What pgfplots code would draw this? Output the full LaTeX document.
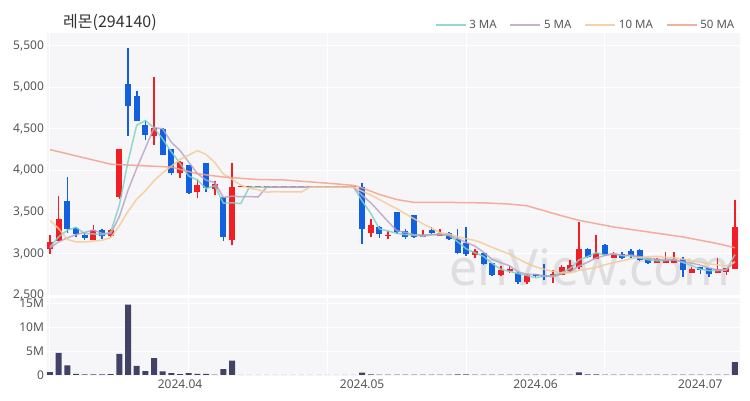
\documentclass[border=0pt]{standalone}
\usepackage{fontspec}
\setmainfont{Noto Sans}
\newfontfamily\kr{Noto Sans CJK KR}
\usepackage{pgfplots}
\usepackage{pgfplotstable}
\pgfplotsset{compat=1.18}

\definecolor{upred}{RGB}{242,30,38}
\definecolor{dnblue}{RGB}{18,96,224}
\definecolor{volbar}{RGB}{66,66,102}
\definecolor{panel}{RGB}{246,246,248}
\definecolor{ma3}{RGB}{128,210,198}
\definecolor{ma5}{RGB}{184,164,200}
\definecolor{ma10}{RGB}{244,202,150}
\definecolor{ma50}{RGB}{245,160,142}
\definecolor{lbl}{RGB}{85,85,85}
\definecolor{ttl}{RGB}{51,51,51}
\definecolor{wmark}{RGB}{222,222,224}

% rising candles (red), including the halt days
\pgfplotstableread{
x o h l c
0 3060 3220 3000 3140
1 3152 3692 3150 3412
5 3168 3348 3160 3280
7 3208 3300 3200 3280
8 3680 4260 3660 4260
12 4408 5120 4300 4512
15 3968 4110 3912 4100
17 3740 3892 3672 3828
19 3780 3868 3708 3832
21 3168 4092 3100 3800
22 3800 3800 3800 3800
23 3800 3800 3800 3800
24 3800 3800 3800 3800
25 3800 3800 3800 3800
26 3800 3800 3800 3800
27 3800 3800 3800 3800
28 3800 3800 3800 3800
29 3800 3800 3800 3800
30 3800 3800 3800 3800
31 3800 3800 3800 3800
32 3800 3800 3800 3800
33 3800 3800 3800 3800
34 3800 3800 3800 3800
35 3800 3800 3800 3800
37 3248 3420 3200 3348
39 3212 3268 3172 3228
43 3200 3280 3200 3228
45 3208 3300 3208 3248
49 2980 3052 2950 3030
52 2740 2852 2735 2808
53 2792 2852 2772 2812
55 2660 2750 2640 2740
58 2728 2800 2648 2752
59 2740 2860 2740 2840
60 2792 2920 2780 2868
61 2840 3380 2820 3060
63 2940 3220 2930 3012
65 2952 3020 2950 2992
70 2888 2950 2888 2932
71 2888 3020 2888 2928
72 2888 3020 2888 2940
74 2768 2840 2768 2820
77 2768 2952 2768 2820
78 2780 2828 2740 2828
79 2820 3640 2820 3320
}\upc

% falling candles (blue)
\pgfplotstableread{
x o h l c
2 3628 3920 3248 3292
3 3312 3320 3200 3240
4 3220 3260 3160 3192
6 3288 3300 3180 3208
9 5040 5472 4408 4780
10 4892 4960 4590 4592
11 4540 4600 4360 4428
13 4500 4510 4180 4188
14 4252 4260 3940 3968
16 4068 4070 3720 3728
18 4088 4090 3740 3788
20 3680 3680 3152 3200
36 3800 3848 3112 3300
38 3320 3330 3192 3240
40 3500 3500 3240 3260
41 3268 3290 3180 3200
42 3460 3460 3190 3200
44 3288 3320 3232 3248
46 3248 3260 3160 3172
47 3180 3300 2992 3008
48 3128 3320 2972 2992
50 3008 3020 2860 2880
51 2888 2890 2730 2740
54 2768 2780 2640 2660
56 2752 2760 2720 2728
57 2740 2872 2680 2720
62 3060 3070 2950 2960
64 3108 3110 2970 2980
66 3000 3020 2940 2952
67 3032 3050 2950 2968
68 3048 3050 2915 2920
69 2940 2940 2870 2888
73 2932 2960 2720 2808
75 2840 2840 2752 2808
76 2828 2828 2720 2760
}\dnc

% volume (millions) and short moving averages
\pgfplotstableread{
x v m3 m5 m10
0 0.6 3080 3068 3400
1 4.6 3201 3140 3300
2 2.0 3281 3189 3170
3 0.25 3315 3227 3140
4 0.15 3241 3255 3140
5 0.15 3237 3283 3150
6 0.15 3227 3242 3160
7 0.2 3256 3240 3190
8 4.4 3583 3444 3335
9 14.7 4107 3762 3508
10 1.9 4544 4024 3654
11 0.8 4600 4268 3755
12 3.5 4511 4514 3877
13 0.75 4376 4500 3972
14 0.4 4223 4338 4050
15 0.2 4085 4239 4132
16 0.4 3932 4099 4184
17 0.25 3885 3962 4238
18 0.25 3781 3882 4191
19 0.1 3816 3855 4096
20 1.2 3607 3675 3957
21 3.0 3611 3690 3894
22 0 3600 3684 3823
23 0 3800 3686 3784
24 0 3800 3680 3768
25 0 3800 3800 3738
26 0 3800 3800 3745
27 0 3800 3800 3742
28 0 3800 3800 3743
29 0 3800 3800 3740
30 0 3800 3800 3800
31 0 3800 3800 3800
32 0 3800 3800 3800
33 0 3800 3800 3800
34 0 3800 3800 3800
35 0 3800 3800 3800
36 0.5 3633 3700 3750
37 0.12 3483 3610 3705
38 0.1 3296 3498 3649
39 0.08 3272 3383 3592
40 0.1 3243 3275 3538
41 0.08 3229 3255 3478
42 0.1 3220 3226 3418
43 0.06 3209 3223 3360
44 0.06 3225 3227 3305
45 0.06 3241 3225 3250
46 0.08 3223 3219 3237
47 0.15 3143 3181 3203
48 0.15 3057 3134 3178
49 0.08 3010 3090 3159
50 0.1 2967 3016 3121
51 0.1 2883 2930 3075
52 0.06 2809 2890 3035
53 0.06 2787 2854 2994
54 0.1 2760 2780 2935
55 0.06 2737 2752 2884
56 0.05 2709 2750 2840
57 0.06 2729 2732 2811
58 0.05 2733 2720 2787
59 0.06 2771 2756 2768
60 0.08 2820 2782 2767
61 0.55 2923 2848 2799
62 0.12 2963 2896 2814
63 0.15 3011 2948 2834
64 0.08 2984 2976 2866
65 0.05 2995 3001 2891
66 0.05 2975 2979 2914
67 0.05 2971 2981 2938
68 0.06 2947 2962 2955
69 0.05 2925 2944 2960
70 0.05 2913 2932 2966
71 0.05 2916 2927 2953
72 0.05 2933 2922 2951
73 0.08 2892 2899 2931
74 0.05 2856 2886 2915
75 0.05 2812 2861 2896
76 0.06 2796 2827 2877
77 0.06 2796 2803 2862
78 0.05 2803 2807 2853
79 2.7 2989 2907 2896
}\ind

\pgfplotstableread{
x v
0 4250
2 4200
4 4150
7 4075
10 4060
14 4040
17 3960
20 3920
24 3890
27 3885
30 3862
33 3838
35 3820
36 3790
38 3710
40 3650
42 3615
46 3615
50 3610
53 3595
55 3575
57 3515
59 3455
61 3400
63 3360
65 3320
67 3290
69 3260
71 3230
73 3200
75 3160
77 3120
79 3070
}\mafifty

\pgfplotsset{
  panelax/.style={
    scale only axis, width=693.3pt, xmin=-0.38, xmax=79.58,
    axis line style={draw=none}, major tick length=0pt,
    axis background/.style={fill=panel},
    grid style={draw=white, line width=1pt},
    ymajorgrids,
    ticklabel style={font=\fontsize{12}{14}\selectfont, text=lbl},
    yticklabel style={inner sep=0pt, xshift=-2.6pt},
    /pgf/number format/assume math mode=true,
  },
  wick/.style={draw=none, mark=none, forget plot,
    error bars/.cd, y dir=plus, y explicit, error mark=none,
    error bar style={line width=1.6pt, draw=#1, solid}},
  body/.style={draw=none, mark=none, forget plot,
    error bars/.cd, y dir=plus, y explicit, error mark=none,
    error bar style={line width=6pt, draw=#1, solid}},
}

\begin{document}
\begin{tikzpicture}[x=1pt,y=1pt]
\path[use as bounding box] (0,0) rectangle (750,400);

\node[anchor=west, inner sep=0pt, text=ttl, font=\kr\fontsize{16}{18}\selectfont] at (63,378) {레몬(294140)};

% price panel
\begin{axis}[panelax,
  at={(46.7pt,104pt)}, anchor=south west, height=263pt,
  ymin=2490, ymax=5652,
  ytick={2500,3000,...,5500},
  xtick={0,16,32,48,64}, xticklabels={}, xmajorgrids,
  /pgf/number format/1000 sep={,},
  legend style={at={(0.995,1.031)}, anchor=east, draw=none, fill=none,
    inner sep=0pt, font=\fontsize{11.5}{13}\selectfont, text=lbl,
    /tikz/every even column/.append style={column sep=11pt},
    /tikz/every odd column/.append style={column sep=1pt}},
  legend columns=4,
  legend image code/.code={\draw[#1] (0pt,0pt) -- (30pt,0pt);},
]
\node[font=\bfseries\fontsize{50}{50}\selectfont, text=wmark] at (axis cs:62.3,2830) {enView.com};

\addplot[wick=upred] table[x=x, y=l, y error plus expr=\thisrow{h}-\thisrow{l}] {\upc};
\addplot[body=upred] table[x=x, y expr={min(\thisrow{o},\thisrow{c})}, y error plus expr={max(abs(\thisrow{c}-\thisrow{o}),16)}] {\upc};
\addplot[wick=dnblue] table[x=x, y=l, y error plus expr=\thisrow{h}-\thisrow{l}] {\dnc};
\addplot[body=dnblue] table[x=x, y expr={min(\thisrow{o},\thisrow{c})}, y error plus expr={max(abs(\thisrow{c}-\thisrow{o}),16)}] {\dnc};

\addplot[ma3, line width=1.5pt, opacity=0.85] table[x=x, y=m3] {\ind};
\addlegendentry{3 MA}
\addplot[ma5, line width=1.5pt, opacity=0.85] table[x=x, y=m5] {\ind};
\addlegendentry{5 MA}
\addplot[ma10, line width=1.5pt, opacity=0.85] table[x=x, y=m10] {\ind};
\addlegendentry{10 MA}
\addplot[ma50, line width=1.5pt, opacity=0.85] table[x=x, y=v] {\mafifty};
\addlegendentry{50 MA}
\end{axis}

% volume panel
\begin{axis}[panelax,
  at={(46.7pt,24.3pt)}, anchor=south west, height=77.4pt,
  ymin=-0.15, ymax=16,
  ytick={0,5,10,15}, yticklabels={0,5M,10M,15M},
  xtick={15,36,56,75}, xticklabels={2024.04,2024.05,2024.06,2024.07},
  xticklabel style={inner sep=0pt, anchor=north, yshift=-3.4pt},
  extra x ticks={0,16,32,48,64}, extra x tick labels={},
  extra x tick style={grid=major},
]
\addplot[ybar, bar width=6pt, fill=volbar, draw=none] table[x=x, y=v] {\ind};
\end{axis}
\end{tikzpicture}
\end{document}
